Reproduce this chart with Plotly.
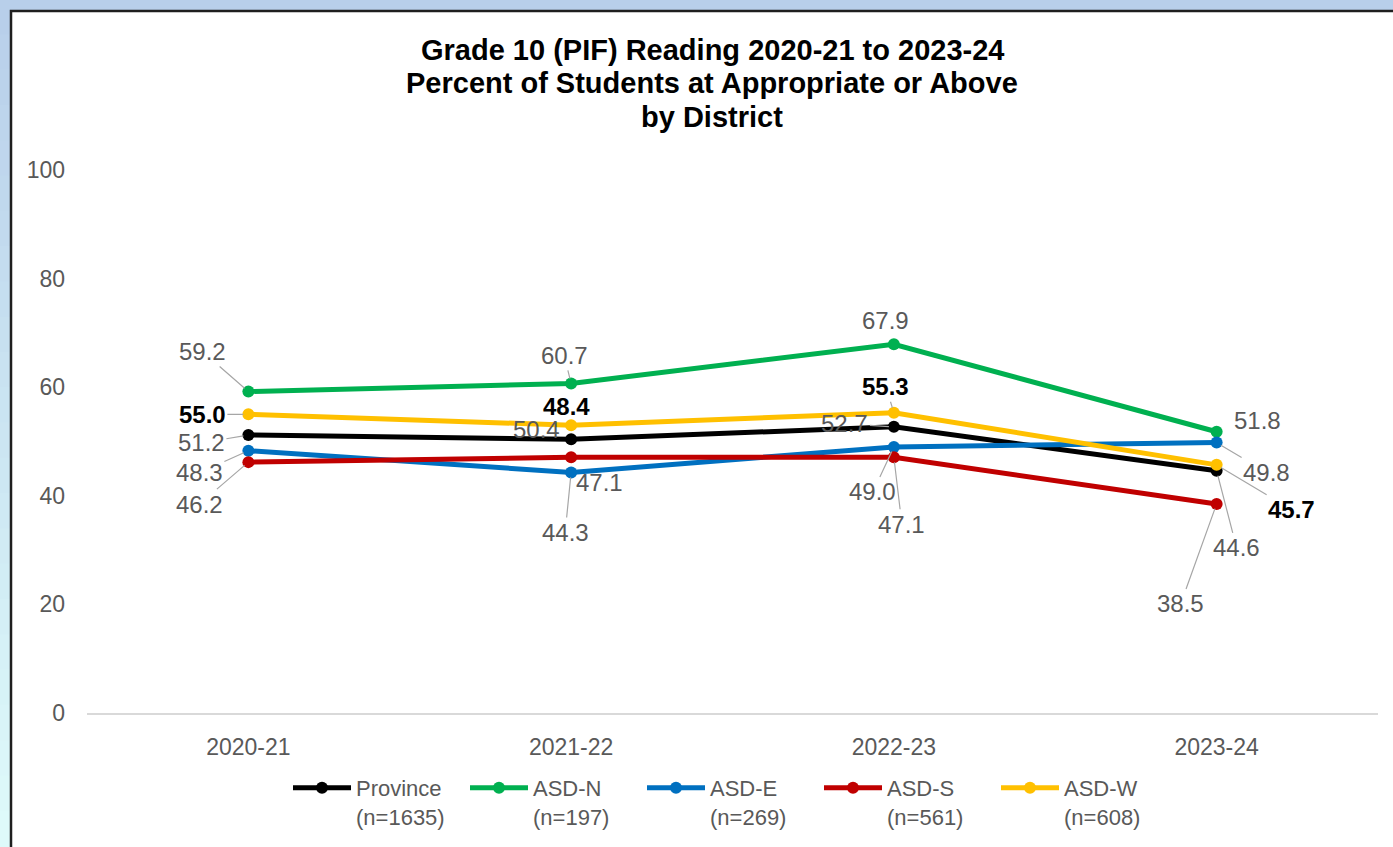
import plotly.graph_objects as go

# ---------------- data ----------------
years = ["2020-21", "2021-22", "2022-23", "2023-24"]

province = [51.2, 50.4, 52.7, 44.6]
asd_n = [59.2, 60.7, 67.9, 51.8]
asd_e = [48.3, 44.3, 49.0, 49.8]
asd_s = [46.2, 47.1, 47.1, 38.5]
asd_w = [55.0, 53.0, 55.3, 45.7]          # plotted positions
asd_w_labels = ["55.0", "48.4", "55.3", "45.7"]  # label texts as shown

names = ["Province", "ASD-N", "ASD-E", "ASD-S", "ASD-W"]
counts = ["n=1635", "n=197", "n=269", "n=561", "n=608"]

title_lines = ["Grade 10 (PIF) Reading 2020-21 to 2023-24",
               "Percent of Students at Appropriate or Above",
               "by District"]
y_ticks = [0, 20, 40, 60, 80, 100]

# ---------------- styles ----------------
colors = ["#000000", "#00B050", "#0070C0", "#C00000", "#FFC000"]
series_vals = [province, asd_n, asd_e, asd_s, asd_w]
series_labels = [
    ["%.1f" % v for v in province],
    ["%.1f" % v for v in asd_n],
    ["%.1f" % v for v in asd_e],
    ["%.1f" % v for v in asd_s],
    asd_w_labels,
]
label_bold = [False, False, False, False, True]
# label offsets (px) from point: (dx, dy, leader line)
label_offsets = [
    [(-47, 8, True), (-35, -10, False), (-49, -3, True), (20, 77, True)],
    [(-46, -40, True), (-7, -28, True), (-8, -24, False), (41, -11, False)],
    [(-49, 22, True), (-6, 60, True), (-21, 45, True), (50, 30, True)],
    [(-49, 42, True), (28, 25, False), (8, 67, True), (-36, 100, True)],
    [(-46, 0, True), (-5, -19, False), (-8, -26, True), (75, 45, True)],
]
title_y_px = [50, 83, 117]

FONT = "Liberation Sans, Arial, sans-serif"
GRAY = "#595959"

W, H = 1393, 847
L, R, T, B = 87, 15, 170, 134
PW, PH = W - L - R, H - T - B


def px_x(p):
    return (p - L) / PW


def px_y(p):
    return (H - B - p) / PH


fig = go.Figure()

for name, cnt, vals, col in zip(names, counts, series_vals, colors):
    fig.add_trace(go.Scatter(
        x=years, y=vals, mode="lines+markers",
        name=f"{name}<br>({cnt})",
        line=dict(color=col, width=5),
        marker=dict(color=col, size=12),
        hoverinfo="skip",
    ))

annotations = []
for vals, labs, offs, bold in zip(series_vals, series_labels, label_offsets, label_bold):
    for xi, (v, t, (dx, dy, lead)) in enumerate(zip(vals, labs, offs)):
        txt = f"<b>{t}</b>" if bold else t
        fcol = "#000000" if bold else GRAY
        if lead:
            annotations.append(dict(
                x=years[xi], y=v, xref="x", yref="y", text=txt,
                showarrow=True, ax=dx, ay=dy, arrowhead=0, arrowwidth=1.2,
                arrowcolor="#A6A6A6", standoff=5,
                font=dict(family=FONT, size=24, color=fcol),
            ))
        else:
            annotations.append(dict(
                x=years[xi], y=v, xref="x", yref="y", text=txt,
                showarrow=False, xshift=dx, yshift=-dy,
                font=dict(family=FONT, size=24, color=fcol),
            ))

# title (one annotation per line to control line spacing)
for line, ypx in zip(title_lines, title_y_px):
    annotations.append(dict(
        x=px_x(712), y=px_y(ypx), xref="paper", yref="paper",
        text=f"<b>{line}</b>", showarrow=False,
        xanchor="center", yanchor="middle",
        font=dict(family=FONT, size=29, color="#000000"),
    ))

# background: gradient bands + white chart area
shapes = []
nb = 24
c0 = (184, 207, 234)
c1 = (222, 250, 250)
for i in range(nb):
    f = i / (nb - 1)
    c = tuple(int(round(a + (b - a) * f)) for a, b in zip(c0, c1))
    shapes.append(dict(
        type="rect", xref="paper", yref="paper", layer="below",
        x0=px_x(-5), x1=px_x(W + 5),
        y0=px_y(H * (i + 1) / nb + 1), y1=px_y(H * i / nb - 1),
        fillcolor="rgb(%d,%d,%d)" % c, line=dict(width=0),
    ))
shapes.append(dict(
    type="rect", xref="paper", yref="paper", layer="below",
    x0=px_x(11), x1=px_x(W + 20), y0=px_y(H + 20), y1=px_y(11),
    fillcolor="#FFFFFF", line=dict(color="#1F1F1F", width=2.5),
))

fig.update_layout(
    width=W, height=H,
    margin=dict(l=L, r=R, t=T, b=B, pad=0, autoexpand=False),
    paper_bgcolor="#FFFFFF",
    plot_bgcolor="rgba(0,0,0,0)",
    font=dict(family=FONT, size=22, color=GRAY),
    showlegend=True,
    legend=dict(
        orientation="h", x=px_x(288), y=px_y(767), xanchor="left", yanchor="top",
        font=dict(family=FONT, size=22, color=GRAY),
        itemwidth=58, entrywidth=104, valign="top",
        bgcolor="rgba(0,0,0,0)", traceorder="normal", itemclick=False,
    ),
    xaxis=dict(
        type="category", range=[-0.5, 3.5], showgrid=False, zeroline=False,
        showline=True, linecolor="#D9D9D9", linewidth=1.5, ticks="",
        tickfont=dict(family=FONT, size=23, color=GRAY), ticklabelstandoff=13,
        fixedrange=True,
    ),
    yaxis=dict(
        range=[0, 100], tickvals=y_ticks, showgrid=False, zeroline=False,
        showline=False, ticks="", ticklabelstandoff=21,
        tickfont=dict(family=FONT, size=23, color=GRAY), fixedrange=True,
    ),
    annotations=annotations,
    shapes=shapes,
)

fig.write_html("out.html", config={"displayModeBar": False},
               post_script="document.body.style.margin='0px';")
